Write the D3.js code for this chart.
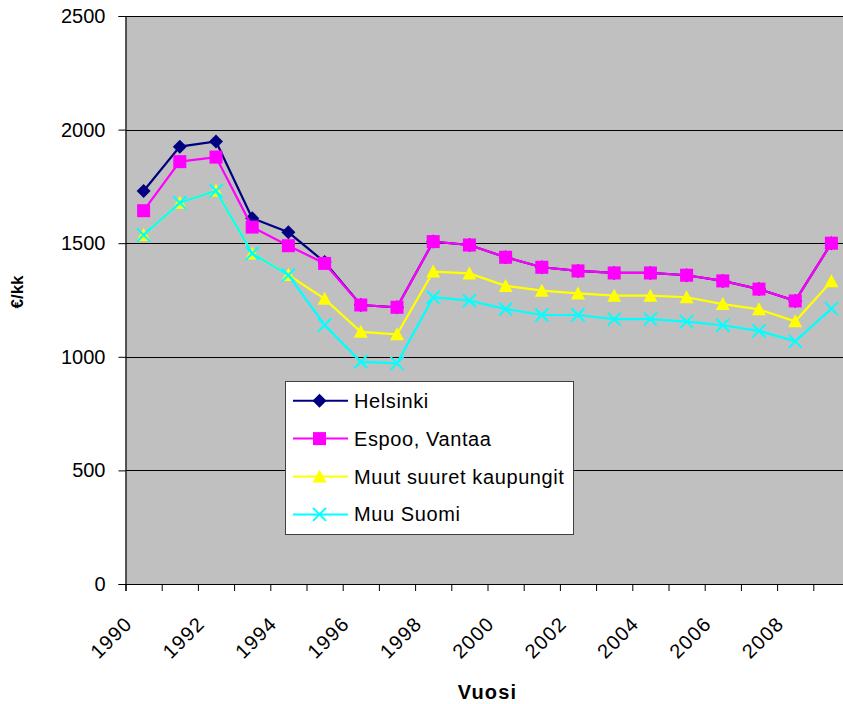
<!DOCTYPE html>
<html>
<head>
<meta charset="utf-8">
<script src="https://cdn.jsdelivr.net/npm/d3@7"></script>
<style>
  html, body { margin: 0; padding: 0; background: #fff; overflow: hidden; }
  svg { display: block; font-family: "Liberation Sans", Arial, sans-serif; }
</style>
</head>
<body>
<svg id="chart" width="843" height="704"></svg>
<script>
const years = [1990,1991,1992,1993,1994,1995,1996,1997,1998,1999,2000,2001,2002,2003,2004,2005,2006,2007,2008,2009];
const helsinki = [1730,1925,1948,1610,1548,1417,1228,1218,1507,1492,1438,1394,1378,1369,1369,1359,1334,1298,1246,1500];
const espooVantaa = [1643,1859,1879,1571,1489,1411,1228,1218,1507,1492,1438,1394,1378,1369,1369,1359,1334,1298,1246,1500];
const muutSuuret = [1536,1678,1731,1455,1360,1255,1110,1099,1375,1367,1312,1291,1279,1269,1269,1262,1232,1209,1156,1332];
const muuSuomi = [1536,1678,1731,1455,1360,1140,978,971,1262,1247,1210,1184,1184,1166,1166,1155,1139,1114,1068,1212];
const seriesNames = ["Helsinki","Espoo, Vantaa","Muut suuret kaupungit","Muu Suomi"];
const yTicks = [0,500,1000,1500,2000,2500];
const xTitle = "Vuosi";
const yTitle = "€/kk";

(function () {
const series = [
  {name: seriesNames[0], values: helsinki, color: "#000080", marker: "diamond"},
  {name: seriesNames[1], values: espooVantaa, color: "#FF00FF", marker: "square"},
  {name: seriesNames[2], values: muutSuuret, color: "#FFFF00", marker: "triangle"},
  {name: seriesNames[3], values: muuSuomi, color: "#00FFFF", marker: "cross"}
];

const svg = d3.select("#chart");
const pLeft = 125.5, pRight = 849.5, pTop = 16, pBottom = 584;

const xb = d3.scaleLinear().domain([0, years.length]).range([pLeft, pRight]);
const y = d3.scaleLinear().domain([0, 2500]).range([pBottom, pTop]);

// plot background
svg.append("rect").attr("x", pLeft).attr("y", pTop)
  .attr("width", pRight - pLeft).attr("height", pBottom - pTop)
  .attr("fill", "#C0C0C0");

// gridlines
svg.append("g").selectAll("line").data(yTicks.filter(d => d > 0)).join("line")
  .attr("x1", pLeft).attr("x2", pRight)
  .attr("y1", d => Math.round(y(d)) + 0.5).attr("y2", d => Math.round(y(d)) + 0.5)
  .attr("stroke", "#000").attr("stroke-width", 1);

// y axis
const yAxis = svg.append("g").attr("transform", `translate(${pLeft},0)`)
  .call(d3.axisLeft(y).tickValues(yTicks).tickSize(7).tickPadding(13).tickFormat(d3.format("d")));
yAxis.select(".domain").attr("stroke", "#000").attr("stroke-width", 1.2);
yAxis.selectAll(".tick line").attr("stroke", "#000");
yAxis.selectAll(".tick text").attr("font-size", 20).attr("fill", "#000")
  .attr("font-family", "'Liberation Sans', Arial, sans-serif");

// x axis (ticks at category boundaries)
const xAxis = svg.append("g").attr("transform", `translate(0,${pBottom})`)
  .call(d3.axisBottom(xb).tickValues(d3.range(0, years.length + 1)).tickSize(7).tickFormat(""));
xAxis.select(".domain").attr("stroke", "#000").attr("stroke-width", 1.2);
xAxis.selectAll(".tick line").attr("stroke", "#000");

svg.append("g").selectAll("text")
  .data(years.map((yr, i) => ({yr, i})).filter(d => d.i % 2 === 0))
  .join("text")
  .attr("transform", d => `translate(${xb(d.i) + 8},${pBottom + 41}) rotate(-45)`)
  .attr("text-anchor", "end")
  .attr("font-size", 20).attr("letter-spacing", 1.2).attr("fill", "#000")
  .text(d => d.yr);

// titles
svg.append("text").attr("x", (pLeft + pRight) / 2).attr("y", 699)
  .attr("text-anchor", "middle").attr("font-size", 20).attr("font-weight", "bold")
  .attr("letter-spacing", 1.2).text(xTitle);
svg.append("text").attr("transform", `translate(23,292) rotate(-90)`)
  .attr("text-anchor", "middle").attr("font-size", 17).attr("font-weight", "bold")
  .text(yTitle);

// marker drawing
function drawMarker(g, type, color, cx, cy) {
  if (type === "diamond") {
    g.append("path").attr("d", `M${cx},${cy-7}L${cx+7},${cy}L${cx},${cy+7}L${cx-7},${cy}Z`)
      .attr("fill", color);
  } else if (type === "square") {
    g.append("rect").attr("x", cx - 6.5).attr("y", cy - 6.5).attr("width", 13).attr("height", 13)
      .attr("fill", color);
  } else if (type === "triangle") {
    g.append("path").attr("d", `M${cx},${cy-7}L${cx+7},${cy+6}L${cx-7},${cy+6}Z`)
      .attr("fill", color);
  } else if (type === "cross") {
    g.append("path").attr("d", `M${cx-6.5},${cy-6.5}L${cx+6.5},${cy+6.5}M${cx+6.5},${cy-6.5}L${cx-6.5},${cy+6.5}`)
      .attr("stroke", color).attr("stroke-width", 2).attr("fill", "none");
  }
}

const line = d3.line().x((d, i) => xb(i + 0.5)).y(d => y(d));

series.forEach(s => {
  const g = svg.append("g");
  g.append("path").datum(s.values).attr("d", line)
    .attr("fill", "none").attr("stroke", s.color).attr("stroke-width", 2.2);
  s.values.forEach((v, i) => drawMarker(g, s.marker, s.color, xb(i + 0.5), y(v)));
});

// legend
const lg = svg.append("g");
lg.append("rect").attr("x", 285.5).attr("y", 381.5).attr("width", 288).attr("height", 153)
  .attr("fill", "#fff").attr("stroke", "#404040").attr("stroke-width", 1);
series.forEach((s, i) => {
  const ly = 400.7 + i * 37.9;
  lg.append("line").attr("x1", 293).attr("x2", 348).attr("y1", ly).attr("y2", ly)
    .attr("stroke", s.color).attr("stroke-width", 2);
  drawMarker(lg, s.marker, s.color, 319.5, ly);
  lg.append("text").attr("x", 354).attr("y", ly).attr("dy", "0.35em")
    .attr("font-size", 20).attr("letter-spacing", 0.6).attr("fill", "#000").text(s.name);
});
})();
</script>
</body>
</html>
